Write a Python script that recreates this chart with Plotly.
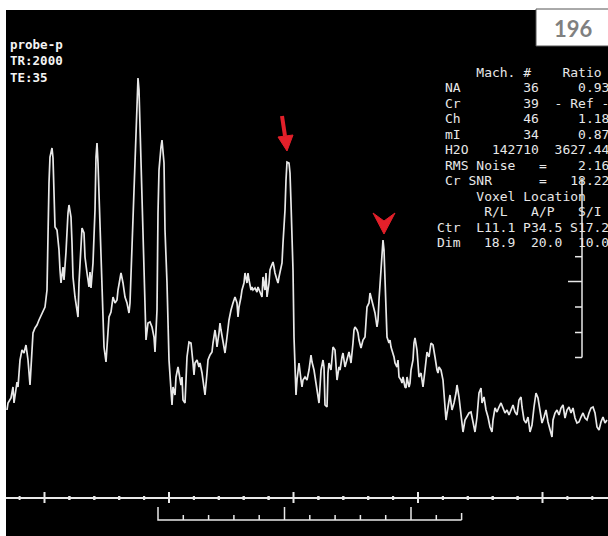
import plotly.graph_objects as go

# ── Spectrum (channel = px from left, amplitude above the ruler line) ──
channel = [
    7, 8, 11, 13, 14, 17, 18, 20, 22, 24,
    26, 28, 30, 32, 33, 35, 37, 39, 41, 43,
    45, 47, 48, 49, 50, 52, 53, 54, 55, 57,
    59, 60, 61, 63, 64, 66, 67, 68, 69, 71,
    72, 73, 75, 77, 78, 79, 81, 82, 84, 85,
    87, 89, 90, 91, 93, 95, 96, 97, 98, 100,
    101, 103, 104, 106, 108, 109, 111, 113, 115, 117,
    118, 121, 123, 125, 127, 129, 130, 132, 133, 135,
    137, 138, 139, 140, 142, 143, 145, 146, 148, 150,
    152, 154, 155, 157, 158, 159, 161, 162, 164, 165,
    167, 168, 169, 171, 172, 173, 175, 176, 178, 179,
    181, 182, 183, 185, 186, 187, 189, 191, 193, 194,
    195, 197, 199, 200, 202, 203, 205, 207, 208, 210,
    212, 213, 215, 216, 217, 219, 220, 221, 223, 224,
    225, 227, 228, 229, 231, 232, 233, 235, 237, 238,
    239, 241, 242, 244, 245, 247, 248, 249, 251, 252,
    253, 255, 257, 258, 260, 262, 263, 265, 266, 267,
    269, 270, 271, 273, 274, 275, 277, 278, 279, 281,
    282, 283, 285, 286, 287, 289, 290, 291, 293, 294,
    295, 296, 297, 299, 301, 302, 303, 305, 307, 309,
    311, 312, 314, 315, 317, 319, 320, 321, 323, 324,
    325, 327, 328, 329, 331, 332, 333, 335, 336, 337,
    339, 340, 342, 343, 345, 346, 347, 349, 350, 351,
    353, 354, 355, 357, 358, 359, 361, 362, 363, 365,
    366, 367, 369, 370, 371, 373, 374, 375, 377, 378,
    379, 381, 382, 383, 384, 385, 386, 387, 389, 390,
    391, 393, 394, 395, 397, 398, 399, 401, 402, 403,
    405, 406, 407, 409, 410, 411, 413, 414, 415, 417,
    418, 419, 421, 422, 423, 425, 426, 427, 429, 430,
    431, 433, 434, 435, 437, 438, 439, 441, 443, 445,
    446, 448, 450, 452, 454, 456, 457, 459, 461, 462,
    463, 465, 467, 469, 471, 473, 475, 477, 479, 481,
    482, 484, 486, 488, 490, 492, 493, 495, 497, 499,
    501, 503, 505, 507, 509, 511, 513, 515, 517, 519,
    521, 522, 524, 526, 528, 530, 532, 534, 536, 538,
    540, 542, 544, 546, 548, 550, 552, 553, 555, 557,
    559, 561, 563, 565, 567, 569, 571, 573, 575, 577,
    579, 581, 583, 585, 587, 589, 591, 593, 595, 597,
    599, 601, 603, 605, 607,
]
amplitude = [
    90, 97, 102, 113, 97, 118, 113, 140, 150, 147,
    155, 140, 115, 143, 167, 172, 175, 180, 185, 190,
    193, 210, 280, 317, 343, 352, 342, 297, 273, 270,
    250, 230, 217, 233, 220, 248, 270, 287, 295, 283,
    257, 223, 203, 190, 183, 217, 257, 272, 267, 243,
    227, 213, 228, 212, 237, 290, 343, 357, 337, 280,
    243, 197, 153, 138, 167, 183, 188, 203, 197, 200,
    210, 227, 217, 203, 197, 187, 197, 250, 290, 337,
    383, 422, 410, 373, 317, 263, 213, 160, 177, 178,
    173, 163, 148, 190, 287, 330, 353, 360, 337, 270,
    217, 177, 140, 110, 95, 113, 105, 123, 133, 127,
    115, 123, 100, 97, 123, 143, 158, 157, 137, 125,
    137, 140, 133, 137, 127, 120, 105, 127, 140, 145,
    148, 157, 170, 163, 153, 167, 177, 170, 160, 153,
    147, 163, 173, 180, 190, 195, 197, 203, 197, 183,
    193, 203, 210, 217, 227, 217, 227, 220, 210, 213,
    210, 212, 208, 213, 208, 203, 223, 210, 227, 203,
    217, 230, 233, 238, 233, 227, 220, 217, 223, 233,
    237, 257, 290, 320, 338, 337, 327, 297, 230, 163,
    130, 105, 120, 137, 120, 113, 120, 123, 120, 130,
    145, 138, 130, 123, 110, 97, 113, 130, 140, 133,
    95, 93, 127, 137, 130, 143, 153, 150, 127, 120,
    133, 130, 143, 147, 133, 137, 143, 148, 143, 137,
    157, 170, 173, 170, 167, 160, 152, 157, 160, 163,
    180, 193, 197, 207, 203, 195, 193, 187, 173, 180,
    200, 227, 243, 260, 250, 220, 187, 163, 157, 160,
    153, 147, 143, 137, 133, 140, 123, 120, 117, 123,
    113, 112, 123, 113, 117, 130, 140, 157, 162, 150,
    130, 123, 127, 117, 113, 130, 143, 148, 143, 153,
    157, 155, 150, 143, 130, 127, 133, 130, 120, 97,
    80, 93, 105, 90, 97, 107, 115, 103, 83, 73,
    68, 80, 83, 87, 88, 77, 68, 83, 107, 112,
    97, 103, 90, 83, 73, 68, 80, 92, 88, 93,
    97, 92, 87, 90, 85, 90, 95, 88, 85, 100,
    103, 93, 80, 77, 83, 68, 75, 93, 107, 102,
    87, 77, 83, 90, 78, 70, 63, 80, 87, 90,
    85, 92, 95, 82, 90, 93, 87, 92, 82, 77,
    78, 83, 87, 82, 80, 87, 92, 93, 87, 73,
    70, 78, 83, 77, 80,
]

# ── Header / results panel text ──
header_lines = ["probe-p", "TR:2000", "TE:35"]
panel_rows = [
    "    Mach. #    Ratio",
    "NA        36     0.93",
    "Cr        39  - Ref -",
    "Ch        46     1.18",
    "mI        34     0.87",
    "H2O   142710  3627.44",
    "RMS Noise   =    2.16",
    "Cr SNR      =   18.22",
    "    Voxel Location",
    "     R/L   A/P   S/I",
    "Ctr  L11.1 P34.5 S17.2",
    "Dim   18.9  20.0  10.0",
]
panel_indent = [0, 0, 0, 0, 0, 0, 0, 0, 0, 0, -1, -1]
page_number = "196"

# ── Ruler marks (channel positions) ──
ruler_major = [44.5, 169, 293.5, 418, 542.5]
bracket_start, bracket_step, bracket_n = 158, 25.3, 12
bracket_tall = [5, 10]
scale_ticks = [243.3, 218.5, 193, 167.5, 142.5]

FG = "#e8e8e8"
RED = "#e3202a"
MONO = "DejaVu Sans Mono, monospace"
BASE = 2  # ruler line level

fig = go.Figure()

# spectrum
fig.add_trace(go.Scatter(
    x=channel, y=amplitude, mode="lines",
    line=dict(color=FG, width=1.7),
    hoverinfo="skip", showlegend=False,
))

# bottom ruler: main line + ticks
rx, ry = [6, 608, None], [BASE, BASE, None]
for m in ruler_major:
    rx += [m, m, None]
    ry += [BASE + 6, BASE - 5, None]
    for k in range(-4, 5):
        p = m + k * 24.9
        if k % 5 != 0 and 6 < p < 608:
            rx += [p, p, None]
            ry += [BASE + 2, BASE - 2, None]
fig.add_trace(go.Scatter(x=rx, y=ry, mode="lines", line=dict(color=FG, width=2),
                         hoverinfo="skip", showlegend=False))

# bracket ruler underneath
bot = BASE - 22
bx = [bracket_start, bracket_start, bracket_start + bracket_n * bracket_step, None]
by = [BASE - 9, bot, bot, None]
for i in range(1, bracket_n + 1):
    p = bracket_start + i * bracket_step
    top = bot + (13 if i in bracket_tall else (7 if i == bracket_n else 5))
    bx += [p, p, None]
    by += [bot, top, None]
fig.add_trace(go.Scatter(x=bx, y=by, mode="lines", line=dict(color=FG, width=1.5),
                         hoverinfo="skip", showlegend=False))

# vertical intensity scale on the right
vx, vy = [582, 582, None], [322, 142.5, None]
for i, t in enumerate(scale_ticks):
    vx += [568 if i == 1 else 575, 582, None]
    vy += [t, t, None]
fig.add_trace(go.Scatter(x=vx, y=vy, mode="lines", line=dict(color=FG, width=1.5),
                         hoverinfo="skip", showlegend=False))

shapes = [
    # black display area
    dict(type="rect", x0=6, x1=608, y0=-36, y1=490, fillcolor="black",
         line=dict(width=0), layer="below"),
    # page number box
    dict(type="rect", x0=536, x1=612, y0=454, y1=491, fillcolor="white",
         line=dict(color="#555555", width=1)),
    # red arrow (shaft + head)
    dict(type="line", x0=282, y0=384, x1=285, y1=364, line=dict(color=RED, width=4)),
    dict(type="path", path="M 278 363 L 293 365 L 287 349 Z",
         fillcolor=RED, line=dict(color=RED, width=1)),
    # red arrowhead marker
    dict(type="path", path="M 373 287 L 384 279 L 395 287 L 384 266 Z",
         fillcolor=RED, line=dict(color=RED, width=1)),
]

annotations = [dict(
    x=8, y=465, text="<br>".join(header_lines), showarrow=False,
    xanchor="left", yanchor="top", align="left",
    font=dict(family=MONO, size=12.5, color="#f4f4f4", weight="bold"),
)]
for i, s in enumerate(panel_rows):
    annotations.append(dict(
        x=443 + 7.83 * panel_indent[i], y=428 - 15.5 * i,
        text=s.replace(" ", "\u00a0"), showarrow=False,
        xanchor="left", yanchor="middle",
        font=dict(family=MONO, size=13, color=FG),
    ))
annotations.append(dict(
    x=573, y=472, text=page_number, showarrow=False,
    xanchor="center", yanchor="middle",
    font=dict(family="Lato, sans-serif", size=22, color="#808080", weight="bold"),
))

fig.update_layout(
    width=608, height=536,
    margin=dict(l=0, r=0, t=0, b=0),
    paper_bgcolor="white", plot_bgcolor="white",
    xaxis=dict(range=[0, 608], visible=False, fixedrange=True),
    yaxis=dict(range=[-36, 500], visible=False, fixedrange=True),
    shapes=shapes,
    annotations=annotations,
    showlegend=False,
)

fig.write_html(
    "out.html",
    config=dict(displayModeBar=False),
    post_script="document.body.style.margin='0';document.body.style.padding='0';",
)
